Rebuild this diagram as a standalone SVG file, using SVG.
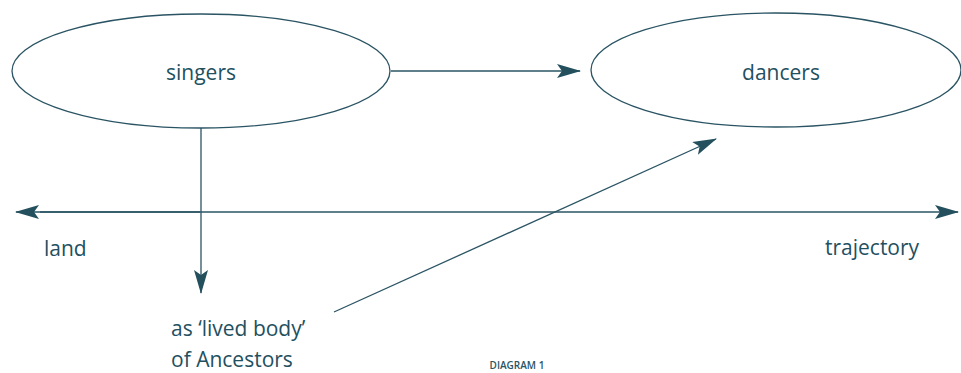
<svg xmlns="http://www.w3.org/2000/svg" width="961" height="373" viewBox="0 0 961 373">
<style>
.n{fill:none;stroke:#2a5463;stroke-width:1.3}
.c{stroke:#2a5463;stroke-width:1.3;fill:none}
.t{font-family:"Open Sans",sans-serif;font-size:21px;fill:#23505f;font-weight:500}
.cap{font-family:"Open Sans",sans-serif;font-size:10px;fill:#2a5463;font-weight:600}
</style>
<defs>
<marker id="ah" viewBox="0 0 24 14" refX="23" refY="7" markerWidth="24" markerHeight="14" markerUnits="userSpaceOnUse" orient="auto">
<path d="M0,0 L24,7 L0,14 L5,7 Z" fill="#24505e"/>
</marker>
</defs>
<rect width="961" height="373" fill="#fff"/>
<g id="singers">
<ellipse class="n" cx="201" cy="71" rx="189" ry="57"/>
<text class="t" x="201" y="80" text-anchor="middle">singers</text>
</g>
<g id="dancers">
<ellipse class="n" cx="776" cy="70" rx="185" ry="57"/>
<text class="t" x="781" y="80" text-anchor="middle">dancers</text>
</g>
<g id="land"><text class="t" x="44" y="256">land</text></g>
<g id="trajectory"><text class="t" x="825" y="255">trajectory</text></g>
<g id="lived-body">
<text class="t" x="171" y="336">as ‘lived body’</text>
<text class="t" x="171" y="367">of Ancestors</text>
</g>
<g id="caption"><text class="cap" x="517" y="369" text-anchor="middle">DIAGRAM 1</text></g>
<g id="connectors">
<line class="c" x1="391" y1="71" x2="580" y2="71" marker-end="url(#ah)"/>
<line class="c" x1="201" y1="128" x2="201" y2="293" marker-end="url(#ah)"/>
<line class="c" x1="40" y1="212" x2="958" y2="212" marker-end="url(#ah)"/>
<line class="c" x1="200" y1="212" x2="16" y2="212" marker-end="url(#ah)"/>
<line class="c" x1="334" y1="312" x2="716" y2="139" marker-end="url(#ah)"/>
</g>
</svg>
